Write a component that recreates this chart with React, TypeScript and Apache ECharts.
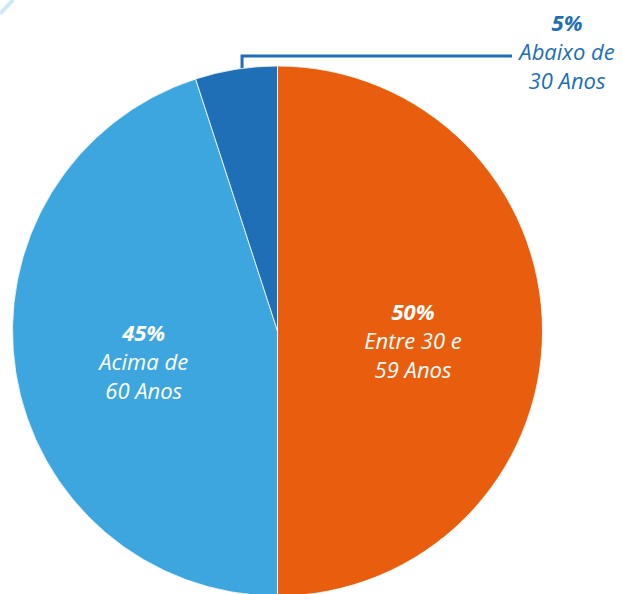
import React, { useEffect, useRef } from "react";
import * as echarts from "echarts";

const categories = ["Entre 30 e\n59 Anos", "Acima de\n60 Anos", "Abaixo de\n30 Anos"];
const values = [50, 45, 5];
const colors = ["#E85D0E", "#3DA6DF", "#1E6FB6"];

export default function App() {
  const ref = useRef<HTMLDivElement>(null);
  useEffect(() => {
    if (!ref.current) return;
    const chart = echarts.init(ref.current, undefined, { renderer: "svg" });
    const font = "'Open Sans', sans-serif";
    const insideLabel = (color: string) => ({
      show: true,
      position: "inside",
      formatter: (p: any) => {
        const lines = String(p.name).split("\n").map((l: string) => `{n|${l}}`).join("\n");
        return `{p|${p.value}%}\n${lines}`;
      },
      rich: {
        p: { fontFamily: font, fontSize: 22, fontWeight: "bold", fontStyle: "italic", color, lineHeight: 29 },
        n: { fontFamily: font, fontSize: 22, fontStyle: "italic", color, lineHeight: 29 },
      },
    });
    const data = values.map((v, i) => {
      const base: any = { value: v, name: categories[i], itemStyle: { color: colors[i] } };
      if (i < 2) {
        base.label = insideLabel("#ffffff");
        base.labelLine = { show: false };
      } else {
        base.label = { ...insideLabel("#1E6FB6"), position: "outside", align: "center" };
        base.labelLine = { show: true, length: 10, length2: 20, lineStyle: { color: "#1E6FB6", width: 3 } };
      }
      return base;
    });
    chart.setOption({
      animation: false,
      graphic: [
        {
          type: "line",
          shape: { x1: 0, y1: 14, x2: 13, y2: 0 },
          style: { stroke: "#cde9f7", lineWidth: 4 },
        },
      ],
      series: [
        {
          type: "pie",
          center: [277.5, 331],
          radius: 265,
          startAngle: 90,
          clockwise: true,
          avoidLabelOverlap: false,
          itemStyle: { borderColor: "#ffffff", borderWidth: 0.8 },
          labelLayout: (params: any) => {
            if (params.dataIndex !== 2) return { dy: 9 };
            const pts = params.labelLinePoints;
            const sx = (pts ? pts[0][0] : 236) + 6;
            const sy = pts ? pts[0][1] : 66;
            const ly = 56;
            return {
              x: 567,
              y: 51,
              align: "center",
              verticalAlign: "middle",
              labelLinePoints: [
                [sx, sy + 1],
                [sx, ly],
                [512, ly],
              ],
            };
          },
          data,
        },
      ],
    });
    return () => chart.dispose();
  }, []);
  return (
    <div
      ref={ref}
      style={{ position: "absolute", left: 0, top: 0, width: 622, height: 594, background: "#ffffff" }}
    />
  );
}
